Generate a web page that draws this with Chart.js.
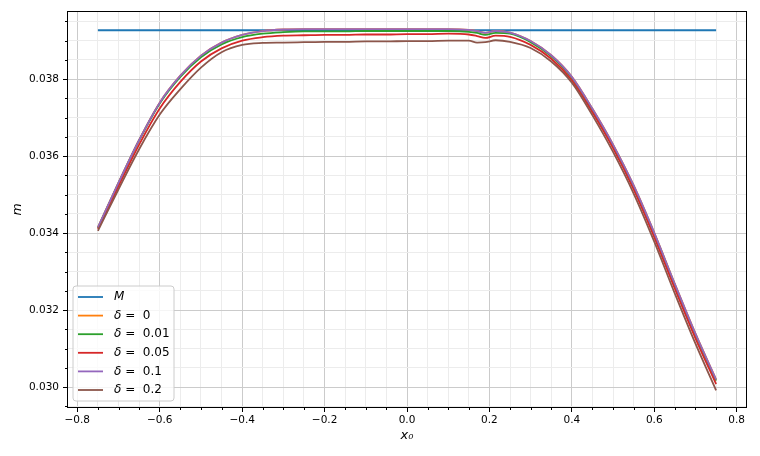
<!DOCTYPE html>
<html>
<head>
<meta charset="utf-8">
<script src="https://cdn.jsdelivr.net/npm/chart.js@4.4.1/dist/chart.umd.min.js"></script>
<style>
  html, body { margin: 0; padding: 0; background: #fff; }
  #wrap { width: 760px; height: 456px; }
</style>
</head>
<body>
<div id="wrap"><canvas id="chart" width="760" height="456"></canvas></div>
<script>
// sampled x0 positions of the curves
const x0 = [-0.75, -0.70, -0.65, -0.60, -0.55, -0.50, -0.45, -0.40, -0.35, -0.30,
            -0.25, -0.20, -0.15, -0.10, -0.05, 0.00, 0.05, 0.10, 0.15, 0.17,
            0.19, 0.215, 0.25, 0.30, 0.35, 0.40, 0.45, 0.50, 0.55, 0.60,
            0.65, 0.70, 0.75];

// reference level M (flat line)
const mX = [-0.75, 0.75];
const mValues = [0.03927, 0.03927];

const delta0 = [0.03415, 0.03531, 0.03642, 0.03739, 0.03809, 0.03861, 0.03895, 0.03915, 0.03925, 0.03929,
                0.03930, 0.03930, 0.03930, 0.03930, 0.03930, 0.03930, 0.03930, 0.03930, 0.03928, 0.03925,
                0.03920, 0.03925, 0.03921, 0.03899, 0.03862, 0.03806, 0.03723, 0.03630, 0.03524, 0.03401,
                0.03268, 0.03139, 0.03020];
const delta001 = [0.03414, 0.03530, 0.03641, 0.03737, 0.03806, 0.03857, 0.03890, 0.03909, 0.03918, 0.03922,
                  0.03924, 0.03924, 0.03924, 0.03925, 0.03925, 0.03925, 0.03925, 0.03925, 0.03923, 0.03920,
                  0.03915, 0.03920, 0.03918, 0.03896, 0.03859, 0.03803, 0.03720, 0.03627, 0.03521, 0.03398,
                  0.03265, 0.03136, 0.03017];
const delta005 = [0.03411, 0.03522, 0.03630, 0.03724, 0.03793, 0.03846, 0.03880, 0.03900, 0.03909, 0.03913,
                  0.03914, 0.03915, 0.03915, 0.03916, 0.03916, 0.03917, 0.03917, 0.03918, 0.03916, 0.03912,
                  0.03907, 0.03913, 0.03910, 0.03889, 0.03853, 0.03797, 0.03714, 0.03621, 0.03514, 0.03390,
                  0.03256, 0.03127, 0.03008];
const delta01 = [0.03415, 0.03531, 0.03642, 0.03739, 0.03809, 0.03861, 0.03895, 0.03915, 0.03925, 0.03929,
                 0.03930, 0.03930, 0.03930, 0.03930, 0.03930, 0.03930, 0.03930, 0.03930, 0.03928, 0.03925,
                 0.03920, 0.03925, 0.03921, 0.03899, 0.03862, 0.03806, 0.03723, 0.03630, 0.03524, 0.03401,
                 0.03268, 0.03139, 0.03020];
const delta02 = [0.03406, 0.03514, 0.03618, 0.03708, 0.03774, 0.03830, 0.03870, 0.03889, 0.03894, 0.03895,
                 0.03896, 0.03897, 0.03897, 0.03898, 0.03898, 0.03899, 0.03899, 0.03900, 0.03900, 0.03895,
                 0.03896, 0.03901, 0.03897, 0.03881, 0.03846, 0.03791, 0.03706, 0.03611, 0.03503, 0.03378,
                 0.03243, 0.03113, 0.02992];

const seriesLabels = ['M', 'δ =  0', 'δ =  0.01', 'δ =  0.05', 'δ =  0.1', 'δ =  0.2'];
const seriesColors = ['#1f77b4', '#ff7f0e', '#2ca02c', '#d62728', '#9467bd', '#8c564b'];

// tick positions
const xMajorTicks = [-0.8, -0.6, -0.4, -0.2, 0.0, 0.2, 0.4, 0.6, 0.8];
const yMajorTicks = [0.030, 0.032, 0.034, 0.036, 0.038];
const xMinorTicks = [];
for (let i = -16; i <= 16; i++) if (i % 4 !== 0) xMinorTicks.push(i * 0.05);
const yMinorTicks = [];
for (let i = 59; i <= 79; i++) if (i % 4 !== 0) yMinorTicks.push(i * 0.0005);

const isMajor = (v, majors) => majors.some(m => Math.abs(m - v) < 1e-9);
const toPoints = (xs, ys) => xs.map((x, i) => ({ x: x, y: ys[i] }));

const seriesData = [toPoints(mX, mValues), toPoints(x0, delta0), toPoints(x0, delta001),
                    toPoints(x0, delta005), toPoints(x0, delta01), toPoints(x0, delta02)];

Chart.defaults.color = '#000';
Chart.defaults.font.family = '"DejaVu Sans", sans-serif';

// frame, short minor ticks and the matplotlib-style legend box
const framePlugin = {
  id: 'frame',
  afterDraw(chart) {
    const { ctx, chartArea: a, scales } = chart;
    ctx.save();
    ctx.strokeStyle = '#000';
    ctx.lineWidth = 1;
    ctx.beginPath();
    xMinorTicks.forEach(v => {
      const px = Math.round(scales.x.getPixelForValue(v)) + 0.5;
      ctx.moveTo(px, a.bottom);
      ctx.lineTo(px, a.bottom + 2);
    });
    yMinorTicks.forEach(v => {
      const py = Math.round(scales.y.getPixelForValue(v)) + 0.5;
      ctx.moveTo(a.left - 2, py);
      ctx.lineTo(a.left, py);
    });
    ctx.stroke();
    ctx.strokeRect(Math.round(a.left) + 0.5, Math.round(a.top) + 0.5,
                   Math.round(a.right - a.left) - 1, Math.round(a.bottom - a.top) - 1);

    // legend
    const bx = 73, by = 286, bw = 101, bh = 115, r = 3;
    ctx.beginPath();
    ctx.moveTo(bx + r, by);
    ctx.arcTo(bx + bw, by, bx + bw, by + bh, r);
    ctx.arcTo(bx + bw, by + bh, bx, by + bh, r);
    ctx.arcTo(bx, by + bh, bx, by, r);
    ctx.arcTo(bx, by, bx + bw, by, r);
    ctx.closePath();
    ctx.fillStyle = 'rgba(255,255,255,0.8)';
    ctx.fill();
    ctx.strokeStyle = '#cccccc';
    ctx.stroke();

    ctx.textBaseline = 'middle';
    chart.data.datasets.forEach((ds, i) => {
      const y = by + 11 + i * 18.6;
      ctx.strokeStyle = ds.borderColor;
      ctx.lineWidth = 1.8;
      ctx.beginPath();
      ctx.moveTo(78, y);
      ctx.lineTo(103, y);
      ctx.stroke();
      ctx.fillStyle = '#000';
      const first = ds.label.charAt(0);
      const rest = ds.label.slice(1);
      ctx.font = 'italic 12px "DejaVu Sans"';
      ctx.fillText(first, 114, y);
      const w = ctx.measureText(first).width;
      ctx.font = '12px "DejaVu Sans"';
      ctx.fillText(rest, 114 + w, y);
    });
    ctx.restore();
  }
};

const ctx = document.getElementById('chart').getContext('2d');
new Chart(ctx, {
  type: 'line',
  data: {
    datasets: seriesData.map((d, i) => ({
      label: seriesLabels[i],
      data: d,
      borderColor: seriesColors[i],
      backgroundColor: seriesColors[i],
      borderWidth: 1.8,
      pointRadius: 0,
      fill: false,
      cubicInterpolationMode: 'monotone',
      order: seriesData.length - i
    }))
  },
  options: {
    responsive: false,
    animation: false,
    layout: { padding: { top: 11, right: 13, left: 0, bottom: 0 } },
    plugins: {
      legend: { display: false },
      tooltip: { enabled: false }
    },
    scales: {
      x: {
        type: 'linear',
        min: -0.825,
        max: 0.825,
        afterBuildTicks: s => {
          s.ticks = xMajorTicks.concat(xMinorTicks).sort((a, b) => a - b).map(v => ({ value: v }));
        },
        afterFit: s => { s.height = 48; },
        border: { display: false },
        grid: {
          color: c => isMajor(c.tick.value, xMajorTicks) ? '#cbcbcb' : '#ececec',
          lineWidth: 1,
          tickLength: 4,
          tickColor: c => isMajor(c.tick.value, xMajorTicks) ? '#000' : 'rgba(0,0,0,0)'
        },
        ticks: {
          autoSkip: false,
          maxRotation: 0,
          padding: 2,
          font: { size: 10.5 },
          callback: v => isMajor(v, xMajorTicks) ? v.toFixed(1).replace('-', '\u2212') : ''
        },
        title: {
          display: true,
          text: 'x\u2080',
          font: { size: 13, style: 'italic' },
          padding: { top: 0, bottom: 13 }
        }
      },
      y: {
        type: 'linear',
        min: 0.02946,
        max: 0.03977,
        afterBuildTicks: s => {
          s.ticks = yMajorTicks.concat(yMinorTicks).sort((a, b) => a - b).map(v => ({ value: v }));
        },
        afterFit: s => { s.width = 67; },
        border: { display: false },
        grid: {
          color: c => isMajor(c.tick.value, yMajorTicks) ? '#cbcbcb' : '#ececec',
          lineWidth: 1,
          tickLength: 4,
          tickColor: c => isMajor(c.tick.value, yMajorTicks) ? '#000' : 'rgba(0,0,0,0)'
        },
        ticks: {
          autoSkip: false,
          padding: 4,
          font: { size: 10.5 },
          callback: v => isMajor(v, yMajorTicks) ? v.toFixed(3) : ''
        },
        title: {
          display: true,
          text: 'm',
          font: { size: 12.5, style: 'italic' },
          padding: { top: 10, bottom: 0 }
        }
      }
    }
  },
  plugins: [framePlugin]
});
</script>
</body>
</html>
